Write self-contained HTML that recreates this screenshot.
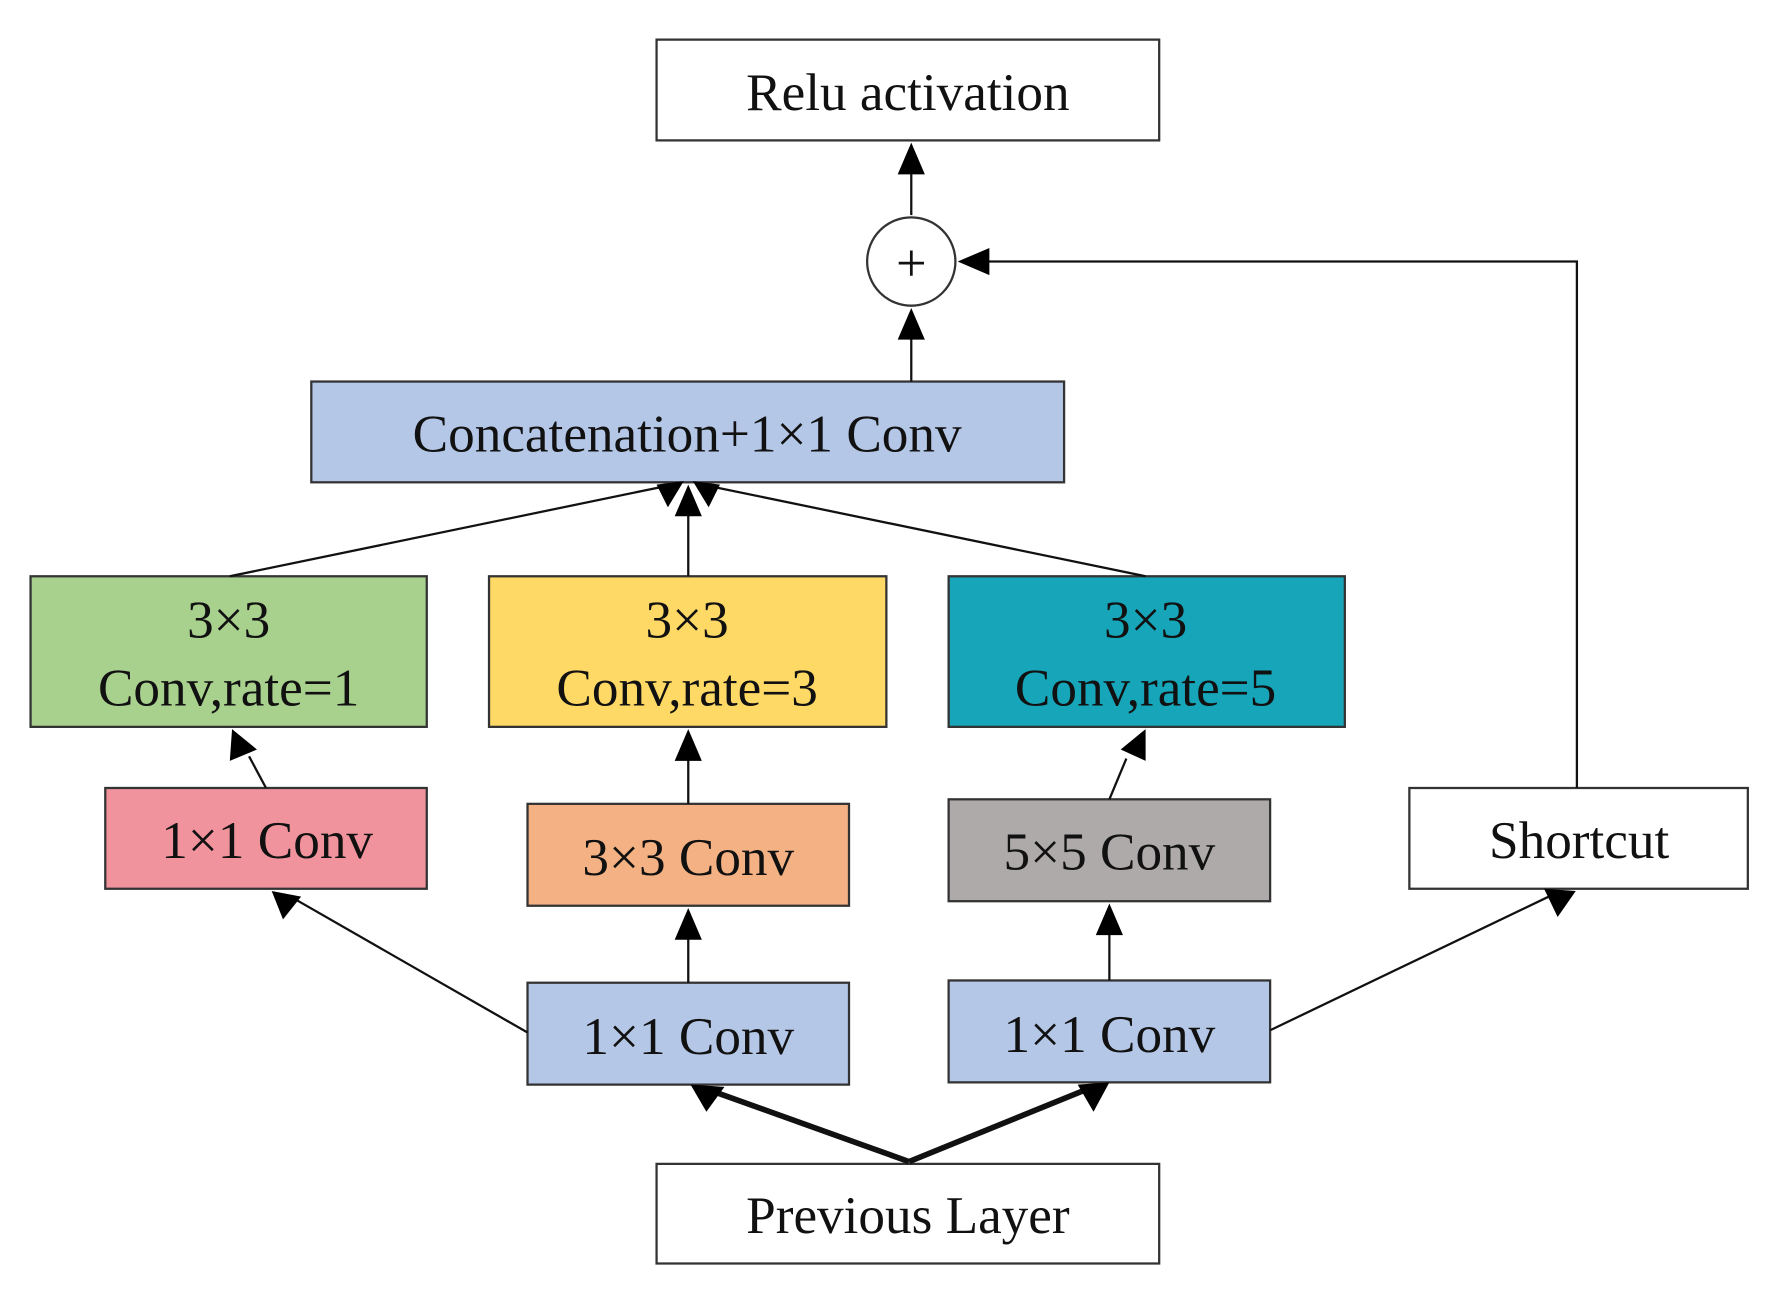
<!DOCTYPE html>
<html><head><style>html,body{margin:0;padding:0;background:#fff}svg{display:block}</style></head>
<body>
<svg width="1775" height="1302" viewBox="0 0 1568 1150" preserveAspectRatio="none" xmlns="http://www.w3.org/2000/svg" font-family="'Liberation Serif', serif" font-size="47" text-anchor="middle">
<g stroke="#333" stroke-width="2">
<rect x="580" y="35" width="444" height="89" fill="#fff"/>
<rect x="275" y="337" width="665" height="89" fill="#b4c7e7"/>
<rect x="27" y="509" width="350" height="133" fill="#a9d18e"/>
<rect x="432" y="509" width="351" height="133" fill="#ffd966"/>
<rect x="838" y="509" width="350" height="133" fill="#17a6b9"/>
<rect x="93" y="696" width="284" height="89" fill="#f0939d"/>
<rect x="466" y="710" width="284" height="90" fill="#f4b183"/>
<rect x="838" y="706" width="284" height="90" fill="#aeaaaa"/>
<rect x="1245" y="696" width="299" height="89" fill="#fff"/>
<rect x="466" y="868" width="284" height="90" fill="#b4c7e7"/>
<rect x="838" y="866" width="284" height="90" fill="#b4c7e7"/>
<rect x="580" y="1028" width="444" height="88" fill="#fff"/>
<circle cx="805" cy="231" r="39" fill="#fff"/>
</g>
<g stroke="#111" stroke-width="2" fill="none">
<line x1="805" y1="190" x2="805" y2="150"/>
<line x1="805" y1="337" x2="805" y2="296"/>
<polyline points="1393,696 1393,231 870,231"/>
<line x1="203" y1="509" x2="585" y2="430"/>
<line x1="608" y1="509" x2="608" y2="450"/>
<line x1="1012" y1="509" x2="630" y2="430"/>
<line x1="235" y1="696" x2="220" y2="668"/>
<line x1="608" y1="710" x2="608" y2="668"/>
<line x1="980" y1="706" x2="995" y2="670"/>
<line x1="608" y1="868" x2="608" y2="826"/>
<line x1="980" y1="866" x2="980" y2="822"/>
<line x1="466" y1="912" x2="262" y2="795"/>
<line x1="1122" y1="910" x2="1368" y2="792"/>
<line x1="803" y1="1026" x2="630" y2="964" stroke-width="5"/>
<line x1="803" y1="1026" x2="958" y2="963" stroke-width="5"/>
</g>
<g fill="#000">
<polygon points="805,126 793,154 817,154"/>
<polygon points="805,272 793,300 817,300"/>
<polygon points="846,231 874,219 874,243"/>
<polygon points="608,428 596,456 620,456"/>
<polygon points="580,428 604,425 590,448" />
<polygon points="636,428 612,425 626,448"/>
<polygon points="205,644 203,672 227,662"/>
<polygon points="608,644 596,672 620,672"/>
<polygon points="1012,644 990,662 1012,672"/>
<polygon points="608,802 596,830 620,830"/>
<polygon points="980,798 968,826 992,826"/>
<polygon points="240,787 250,812 266,792"/>
<polygon points="1392,787 1364,785 1376,810"/>
<polygon points="610,958 624,982 640,960"/>
<polygon points="980,956 952,958 966,982"/>
</g>
<g fill="#111">
<text x="802" y="97">Relu activation</text>
<text x="805" y="248" font-size="48">+</text>
<text x="607" y="399">Concatenation+1×1 Conv</text>
<text x="202" y="563">3×3</text>
<text x="202" y="623">Conv,rate=1</text>
<text x="607" y="563">3×3</text>
<text x="607" y="623">Conv,rate=3</text>
<text x="1012" y="563">3×3</text>
<text x="1012" y="623">Conv,rate=5</text>
<text x="236" y="758">1×1 Conv</text>
<text x="608" y="773">3×3 Conv</text>
<text x="980" y="768">5×5 Conv</text>
<text x="1395" y="758">Shortcut</text>
<text x="608" y="931">1×1 Conv</text>
<text x="980" y="929">1×1 Conv</text>
<text x="802" y="1089">Previous Layer</text>
</g>
</svg>
</body></html>
